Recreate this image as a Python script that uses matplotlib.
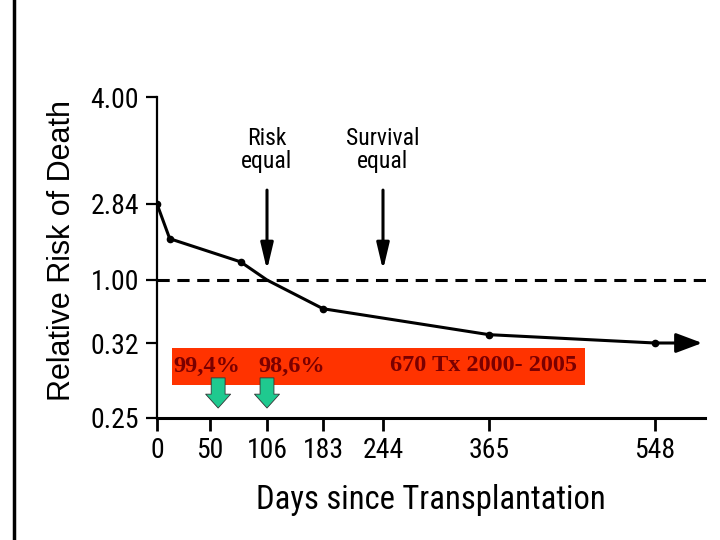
import numpy as np
import matplotlib.pyplot as plt
from matplotlib.lines import Line2D
from matplotlib.patches import Rectangle

# data
days = [0, 12, 80, 106, 183, 365, 548]
risk = [2.84, 2.0, 1.44, 1.00, 0.69, 0.41, 0.32]
dot_days = [0, 12, 80, 183, 365, 548]
dot_risk = [2.84, 2.0, 1.44, 0.69, 0.41, 0.32]

x_ticks = [0, 50, 106, 183, 244, 365, 548]
y_ticks = [0.25, 0.32, 1.00, 2.84, 4.00]
y_labels = ["0.25", "0.32", "1.00", "2.84", "4.00"]

risk_equal_day = 106
survival_equal_day = 244
green_days = [58, 106]
box_labels = ["99,4%", "98,6%", "670 Tx 2000- 2005"]

# the original axes are not linear: tick slots (pixels) used to build the scales
x_slots = [0, 53, 110, 166, 226, 332, 498, 548]
x_anchor = x_ticks + [603]
y_slots = [0, 75, 138, 214, 321]


def x_fwd(v):
    return np.interp(v, x_anchor, x_slots)


def x_inv(v):
    return np.interp(v, x_slots, x_anchor)


def y_fwd(v):
    return np.interp(v, y_ticks, y_slots)


def y_inv(v):
    return np.interp(v, y_slots, y_ticks)


narrow = ["Roboto Condensed", "DejaVu Sans"]

fig = plt.figure(figsize=(7.2, 5.4), dpi=100)
ax = fig.add_axes([157 / 720, 122 / 540, 548 / 720, 321 / 540])
ax.set_xscale("function", functions=(x_fwd, x_inv))
ax.set_yscale("function", functions=(y_fwd, y_inv))
ax.set_xlim(0, 603)
ax.set_ylim(0.25, 4.00)

# reference line at relative risk 1
ax.axhline(1.0, color="black", lw=2.2, ls=(0, (4, 2.5)), xmax=1.01, clip_on=False)

ax.plot(days, risk, color="black", lw=2.2, solid_capstyle="round")
ax.plot(dot_days, dot_risk, "o", color="black", ms=4.5)
ax.annotate("", xy=(603, risk[-1]), xytext=(days[-1], risk[-1]),
            arrowprops=dict(arrowstyle="-|>,head_length=1.6,head_width=0.6",
                            color="black", lw=2.2), annotation_clip=False)

# black arrows with labels
for d, label in [(risk_equal_day, "Risk\nequal"), (survival_equal_day, "Survival\nequal")]:
    ax.annotate("", xy=(d, 0.461), xytext=(d, 0.71),
                xycoords=("data", "axes fraction"),
                textcoords=("data", "axes fraction"),
                arrowprops=dict(arrowstyle="-|>,head_length=1.6,head_width=0.38",
                                color="black", lw=2.2, shrinkA=0, shrinkB=0))
    ax.text(d, 0.835, label, transform=ax.get_xaxis_transform(), ha="center",
            va="center", fontsize=17, family=narrow, linespacing=1.0)

# red banner
ax.add_patch(Rectangle((0.027, 0.103), 0.754, 0.115, transform=ax.transAxes,
                       facecolor="#ff3300", edgecolor="none", zorder=3))
for xpos, lab in zip([0.091, 0.245, 0.595], box_labels):
    ax.text(xpos, 0.162, lab, transform=ax.transAxes, ha="center", va="center",
            fontsize=17.5, family="Liberation Serif", weight="bold",
            color="#7a0000", zorder=4)

# green arrows
for d in green_days:
    ax.annotate("", xy=(d, 0.031), xytext=(d, 0.125),
                xycoords=("data", "axes fraction"),
                textcoords=("data", "axes fraction"),
                arrowprops=dict(arrowstyle="simple,head_length=1.0,head_width=1.8,tail_width=1.0",
                                facecolor="#1fc98f", edgecolor="#333333", lw=0.6,
                                shrinkA=0, shrinkB=0), zorder=5)

ax.spines["top"].set_visible(False)
ax.spines["right"].set_visible(False)
ax.spines["left"].set_linewidth(1.6)
ax.spines["bottom"].set_linewidth(2.2)

ax.set_xticks(x_ticks)
ax.set_xticklabels([str(t) for t in x_ticks], family=narrow, fontsize=20)
ax.set_yticks(y_ticks)
ax.set_yticklabels(y_labels, family=narrow, fontsize=20)
ax.minorticks_off()
ax.tick_params(axis="x", length=9, width=2, pad=5)
ax.tick_params(axis="y", length=8, width=1.6, pad=5)

ax.set_xlabel("Days since Transplantation", family=narrow, fontsize=23.5, labelpad=14)
fig.text(62 / 720, 1 - 250 / 540, "Relative Risk of Death", rotation=90,
         ha="center", va="center", fontsize=22, family="Liberation Sans")

# left border line of the slide
fig.add_artist(Line2D([14 / 720, 14 / 720], [0, 1], color="black", lw=2.5))

fig.savefig("out.png", dpi=100)
